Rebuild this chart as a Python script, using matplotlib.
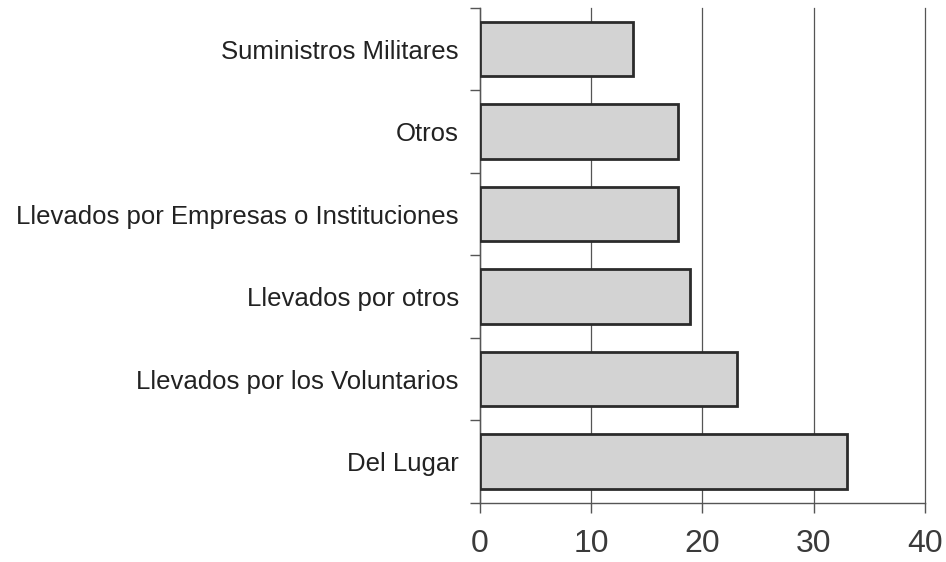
import matplotlib.pyplot as plt
import numpy as np

# categories from bottom to top
categories = [
    "Del Lugar",
    "Llevados por los Voluntarios",
    "Llevados por otros",
    "Llevados por Empresas o Instituciones",
    "Otros",
    "Suministros Militares",
]
values = [33.0, 23.1, 18.9, 17.8, 17.8, 13.8]
xticks = [0, 10, 20, 30, 40]

plt.rcParams["font.family"] = ["Liberation Sans", "DejaVu Sans"]

fig = plt.figure(figsize=(9.46, 5.62), dpi=100)
ax = fig.add_axes([0.507, 0.105, 0.471, 0.881])

y = np.arange(len(categories))
ax.barh(y, values, height=0.66, color="#d3d3d3", edgecolor="#2b2b2b", linewidth=2, zorder=3)

ax.set_xlim(0, 40)
ax.set_ylim(-0.5, len(categories) - 0.5)
ax.set_xticks(xticks)
ax.set_xticklabels([str(t) for t in xticks], fontsize=23, color="#3a3a3a")
ax.xaxis.grid(True, color="#555555", linewidth=0.9)
for gl in ax.get_xgridlines():
    gl.set_clip_on(False)
ax.set_axisbelow(True)

# category labels centred on bars, ticks at the boundaries
ax.set_yticks(y)
ax.set_yticklabels(categories, fontsize=18.5, color="#222222")
ax.tick_params(axis="y", length=0, pad=15)
ax.set_yticks(np.arange(-0.5, len(categories)), minor=True)
ax.tick_params(axis="y", which="minor", length=7, width=1, color="#555555", direction="out")
ax.tick_params(axis="x", length=7, width=1, color="#555555", pad=12)

for s in ["top", "right"]:
    ax.spines[s].set_visible(False)
for s in ["left", "bottom"]:
    ax.spines[s].set_color("#555555")
    ax.spines[s].set_linewidth(1)

fig.savefig("out.png", dpi=100)
